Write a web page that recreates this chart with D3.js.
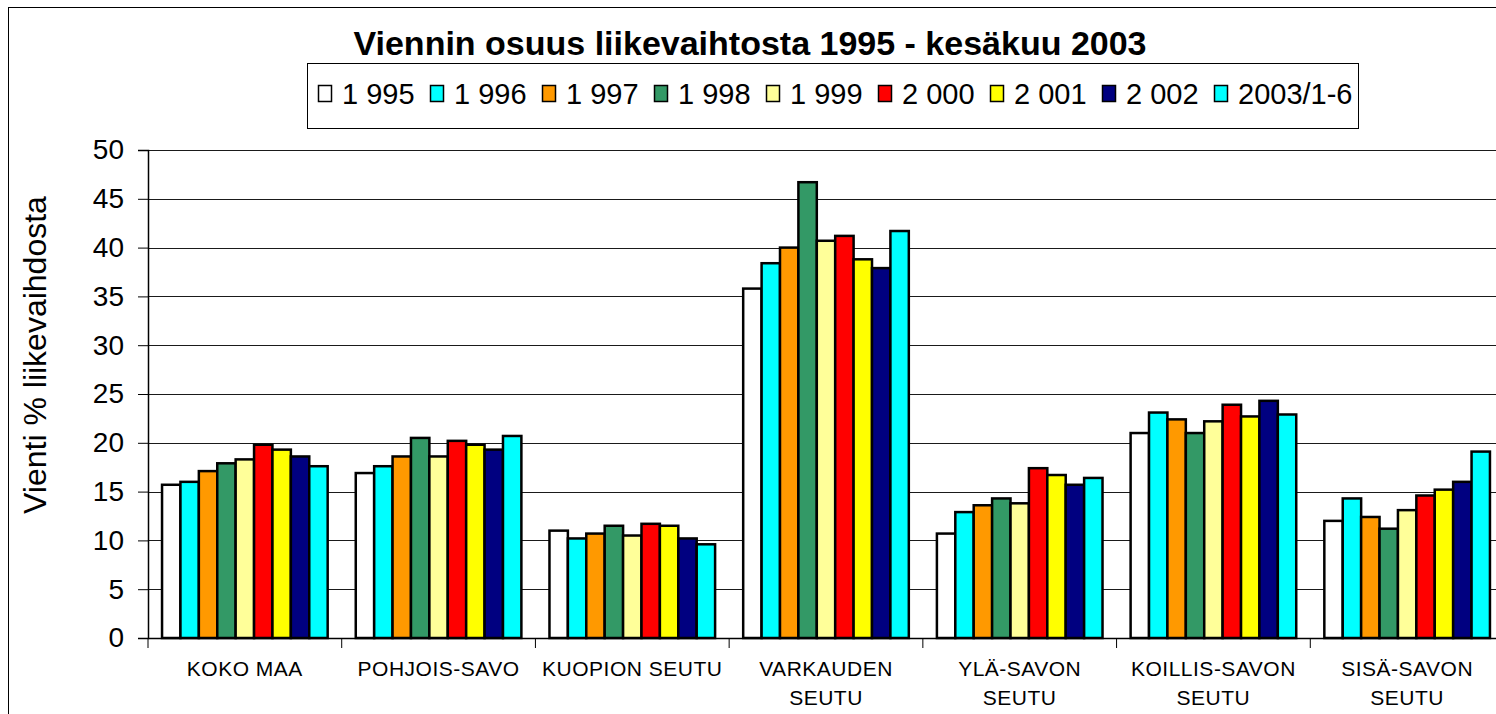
<!DOCTYPE html>
<html>
<head>
<meta charset="utf-8">
<script src="https://cdn.jsdelivr.net/npm/d3@7"></script>
<style>
  body { margin: 0; background: #fff; }
  svg text { font-family: "Liberation Sans", Arial, sans-serif; fill: #000; }
</style>
</head>
<body>
<svg id="chart" width="1496" height="714"></svg>
<script>
// ---- data ----
const regions = ["KOKO MAA", "POHJOIS-SAVO", "KUOPION SEUTU", "VARKAUDEN\nSEUTU",
                 "YLÄ-SAVON\nSEUTU", "KOILLIS-SAVON\nSEUTU", "SISÄ-SAVON\nSEUTU"]
const years = ["1 995", "1 996", "1 997", "1 998", "1 999", "2 000", "2 001", "2 002", "2003/1-6"]
const yearColors = ["#FFFFFF", "#00FFFF", "#FF9900", "#339966", "#FFFF99", "#FF0000", "#FFFF00", "#000080", "#00FFFF"]

// one array per region, in the order of years
const kokoMaa     = [15.7, 16.0, 17.1, 17.9, 18.3, 19.8, 19.3, 18.6, 17.6]
const pohjoisSavo = [16.9, 17.6, 18.6, 20.5, 18.6, 20.2, 19.8, 19.3, 20.7]
const kuopio      = [11.0, 10.2, 10.7, 11.5, 10.5, 11.7, 11.5, 10.2, 9.6]
const varkaus     = [35.8, 38.4, 40.0, 46.7, 40.7, 41.2, 38.8, 37.9, 41.7]
const ylaSavo     = [10.7, 12.9, 13.6, 14.3, 13.8, 17.4, 16.7, 15.7, 16.4]
const koillisSavo = [21.0, 23.1, 22.4, 21.0, 22.2, 23.9, 22.7, 24.3, 22.9]
const sisaSavo    = [12.0, 14.3, 12.4, 11.2, 13.1, 14.6, 15.2, 16.0, 19.1]
const values = [kokoMaa, pohjoisSavo, kuopio, varkaus, ylaSavo, koillisSavo, sisaSavo]

const yTicks = [0, 5, 10, 15, 20, 25, 30, 35, 40, 45, 50]

// ---- layout ----
const svg = d3.select("svg#chart")
const plot = { left: 148, top: 150, right: 1504, bottom: 638 }

// outer chart frame
svg.append("rect")
    .attr("x", 8.5).attr("y", 7.5)
    .attr("width", 1510).attr("height", 720)
    .attr("fill", "none").attr("stroke", "#000")

const x = d3.scaleBand()
    .domain(regions)
    .range([plot.left, plot.right])
    .paddingInner(0.145)
    .paddingOuter(0.0725)

const xYear = d3.scaleBand()
    .domain(years)
    .range([0, x.bandwidth()])

const y = d3.scaleLinear()
    .domain([0, 50])
    .range([plot.bottom, plot.top])

// gridlines
svg.append("g")
    .selectAll("line.grid")
    .data(yTicks.filter(d => d > 0))
    .join("line")
        .attr("class", "grid")
        .attr("x1", plot.left).attr("x2", plot.right)
        .attr("y1", d => Math.round(y(d)) + 0.5)
        .attr("y2", d => Math.round(y(d)) + 0.5)
        .attr("stroke", "#1a1a1a")
        .attr("stroke-width", 1)

// bars
const groups = svg.append("g")
    .selectAll("g.region")
    .data(regions)
    .join("g")
        .attr("class", "region")
        .attr("transform", d => `translate(${x(d)},0)`)

groups.selectAll("rect")
    .data((d, i) => values[i].map((v, j) => ({ year: years[j], v: v, c: yearColors[j] })))
    .join("rect")
        .attr("x", d => xYear(d.year))
        .attr("y", d => y(d.v))
        .attr("width", xYear.bandwidth())
        .attr("height", d => y(0) - y(d.v))
        .attr("fill", d => d.c)
        .attr("stroke", "#000")
        .attr("stroke-width", 2.5)

// y axis
const yAxis = svg.append("g")
    .attr("transform", `translate(${plot.left},0)`)
    .call(d3.axisLeft(y).tickValues(yTicks).tickSize(10).tickPadding(14))
yAxis.select(".domain").attr("stroke", "#000").attr("stroke-width", 1.5)
yAxis.selectAll(".tick line").attr("stroke", "#000")
yAxis.selectAll(".tick text")
    .style("font-size", "28px")
    .style("font-family", "'Liberation Sans', Arial, sans-serif")

// x axis
const xAxis = svg.append("g")
    .attr("transform", `translate(0,${plot.bottom})`)
    .call(d3.axisBottom(x).tickSize(0).tickFormat(""))
xAxis.select(".domain").attr("stroke", "#000").attr("stroke-width", 1.5)

// category separator ticks
const step = x.step()
svg.append("g")
    .selectAll("line.xtick")
    .data(d3.range(regions.length + 1))
    .join("line")
        .attr("class", "xtick")
        .attr("x1", i => plot.left + i * step)
        .attr("x2", i => plot.left + i * step)
        .attr("y1", plot.bottom)
        .attr("y2", plot.bottom + 10)
        .attr("stroke", "#000")

// category labels
svg.append("g")
    .selectAll("text.cat")
    .data(regions)
    .join("text")
        .attr("class", "cat")
        .attr("text-anchor", "middle")
        .attr("x", d => x(d) + x.bandwidth() / 2)
        .attr("y", 676)
        .style("font-size", "21px")
        .style("letter-spacing", "0.5px")
        .selectAll("tspan")
        .data(d => d.split("\n"))
        .join("tspan")
            .attr("x", function() { return d3.select(this.parentNode).attr("x") })
            .attr("dy", (d, i) => i === 0 ? 0 : 29)
            .text(d => d)

// y axis title
svg.append("text")
    .attr("transform", "translate(46,355) rotate(-90)")
    .attr("text-anchor", "middle")
    .style("font-size", "32px")
    .text("Vienti % liikevaihdosta")

// chart title
svg.append("text")
    .attr("x", 750)
    .attr("y", 55)
    .attr("text-anchor", "middle")
    .style("font-size", "34px")
    .style("font-weight", "bold")
    .text("Viennin osuus liikevaihtosta 1995 - kesäkuu 2003")

// legend
const legend = svg.append("g")
legend.append("rect")
    .attr("x", 307.5).attr("y", 63.5)
    .attr("width", 1051).attr("height", 65)
    .attr("fill", "#fff").attr("stroke", "#000")

const items = legend.selectAll("g.item")
    .data(years)
    .join("g")
        .attr("class", "item")
        .attr("transform", (d, i) => `translate(${318 + i * 112},0)`)

items.append("rect")
    .attr("x", 0.5).attr("y", 85.5)
    .attr("width", 13).attr("height", 16)
    .attr("fill", (d, i) => yearColors[i])
    .attr("stroke", "#000")
    .attr("stroke-width", 1.5)

items.append("text")
    .attr("x", 24)
    .attr("y", 104)
    .style("font-size", "29px")
    .text(d => d)
</script>
</body>
</html>
